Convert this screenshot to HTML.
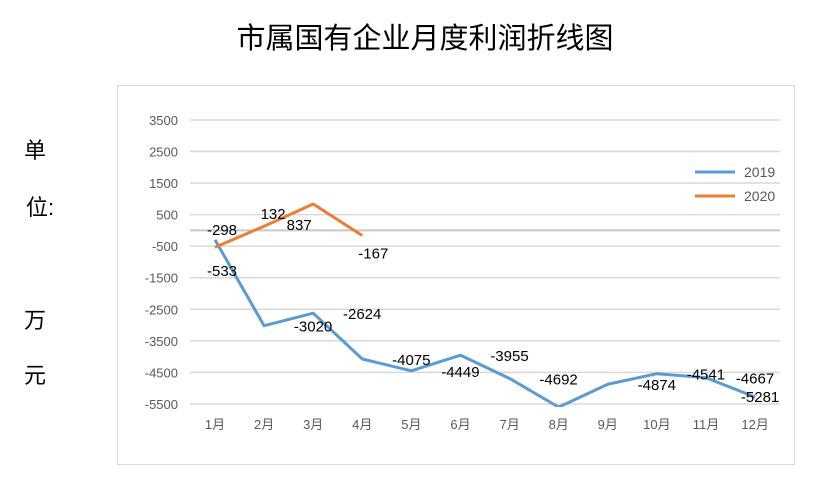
<!DOCTYPE html>
<html><head><meta charset="utf-8"><style>
body{margin:0;background:#fff;width:821px;height:480px;overflow:hidden;font-family:"Liberation Sans","Noto Sans CJK SC",sans-serif;}
</style></head><body>
<svg id="c" width="821" height="480" xmlns="http://www.w3.org/2000/svg" style="font-family:'Liberation Sans','Noto Sans CJK SC',sans-serif">
<text x="425" y="48" text-anchor="middle" font-size="29" fill="#000">市属国有企业月度利润折线图</text>
<rect x="117.5" y="85.5" width="677" height="379" fill="none" stroke="#d9d9d9"/>
<g font-size="22" fill="#000">
<text x="24" y="158">单</text><text x="26" y="215">位:</text><text x="24" y="328">万</text><text x="24" y="383">元</text>
</g>
<g id="grid"></g><g id="series"></g><g id="labels"></g>
<g>
<line x1="695" y1="172" x2="735" y2="172" stroke="#5B9BD5" stroke-width="3"/>
<text x="744" y="177" font-size="14" fill="#595959">2019</text>
<line x1="695" y1="196" x2="735" y2="196" stroke="#ED7D31" stroke-width="3"/>
<text x="744" y="201" font-size="14" fill="#595959">2020</text>
</g>
</svg>
<script>
const months=["1月","2月","3月","4月","5月","6月","7月","8月","9月","10月","11月","12月"];
const ticks=[3500,2500,1500,500,-500,-1500,-2500,-3500,-4500,-5500];
const s2019=[-298,-3020,-2624,-4075,-4449,-3955,-4692,-5600,-4874,-4541,-4667,-5281];
const l2019=["-298","-3020","-2624","-4075","-4449","-3955","-4692","","-4874","-4541","-4667","-5281"];
const s2020=[-533,132,837,-167];
const l2020=["-533","132","837","-167"];
const NS="http://www.w3.org/2000/svg";
function x(i){return 215+i*49.1;}
function y(v){return 230.4-v*0.03156;}
function mk(t,a,p){const e=document.createElementNS(NS,t);for(const k in a)e.setAttribute(k,a[k]);p.appendChild(e);return e;}
const grid=document.getElementById('grid');
ticks.forEach(t=>{
 const l=mk('line',{x1:190,x2:780,y1:y(t),y2:y(t),stroke:'#d9d9d9','stroke-width':1.5},grid);
 
 
 const tx=mk('text',{x:178,y:y(t)+5,'text-anchor':'end','font-size':13,fill:'#595959'},grid);
 tx.textContent=t;
 
 
});
const z=mk('line',{x1:190,x2:780,y1:y(0),y2:y(0),stroke:'#c8c8c8','stroke-width':2},grid);


months.forEach((m,i)=>{
 const t=mk('text',{x:x(i),y:429,'text-anchor':'middle','font-size':13,fill:'#595959'},grid);
 t.textContent=m;
 
 
});
const ser=document.getElementById('series');
const clip=mk('clipPath',{id:'cp'},ser);mk('rect',{x:117,y:85,width:678,height:322},clip);
function line(d,c,n){
 const p=mk('polyline',{points:d.map((v,i)=>x(i)+','+y(v)).join(' '),fill:'none',stroke:c,'stroke-width':3,'stroke-linejoin':'round','clip-path':'url(#cp)'},ser);
 
 
}
line(s2019,'#5B9BD5','series-2019');
line(s2020,'#ED7D31','series-2020');
const lab=document.getElementById('labels');
function label(i,v,txt,dx,dy){
 if(!txt)return;
 const t=mk('text',{x:x(i)+dx,y:y(v)+dy+5,'text-anchor':'middle','font-size':15,fill:'#000'},lab);
 t.textContent=txt;
 
 
}
s2019.forEach((v,i)=>{
 let dx=49,dy=1;
 if(i===0){dx=7;dy=-10;}
 if(i===11){dx=5;dy=0;}
 label(i,v,l2019[i],dx,dy);
});
const off20=[[7,24],[9,-12],[-14,21],[11,18]];
s2020.forEach((v,i)=>label(i,v,l2020[i],off20[i][0],off20[i][1]));
</script>
</body></html>
